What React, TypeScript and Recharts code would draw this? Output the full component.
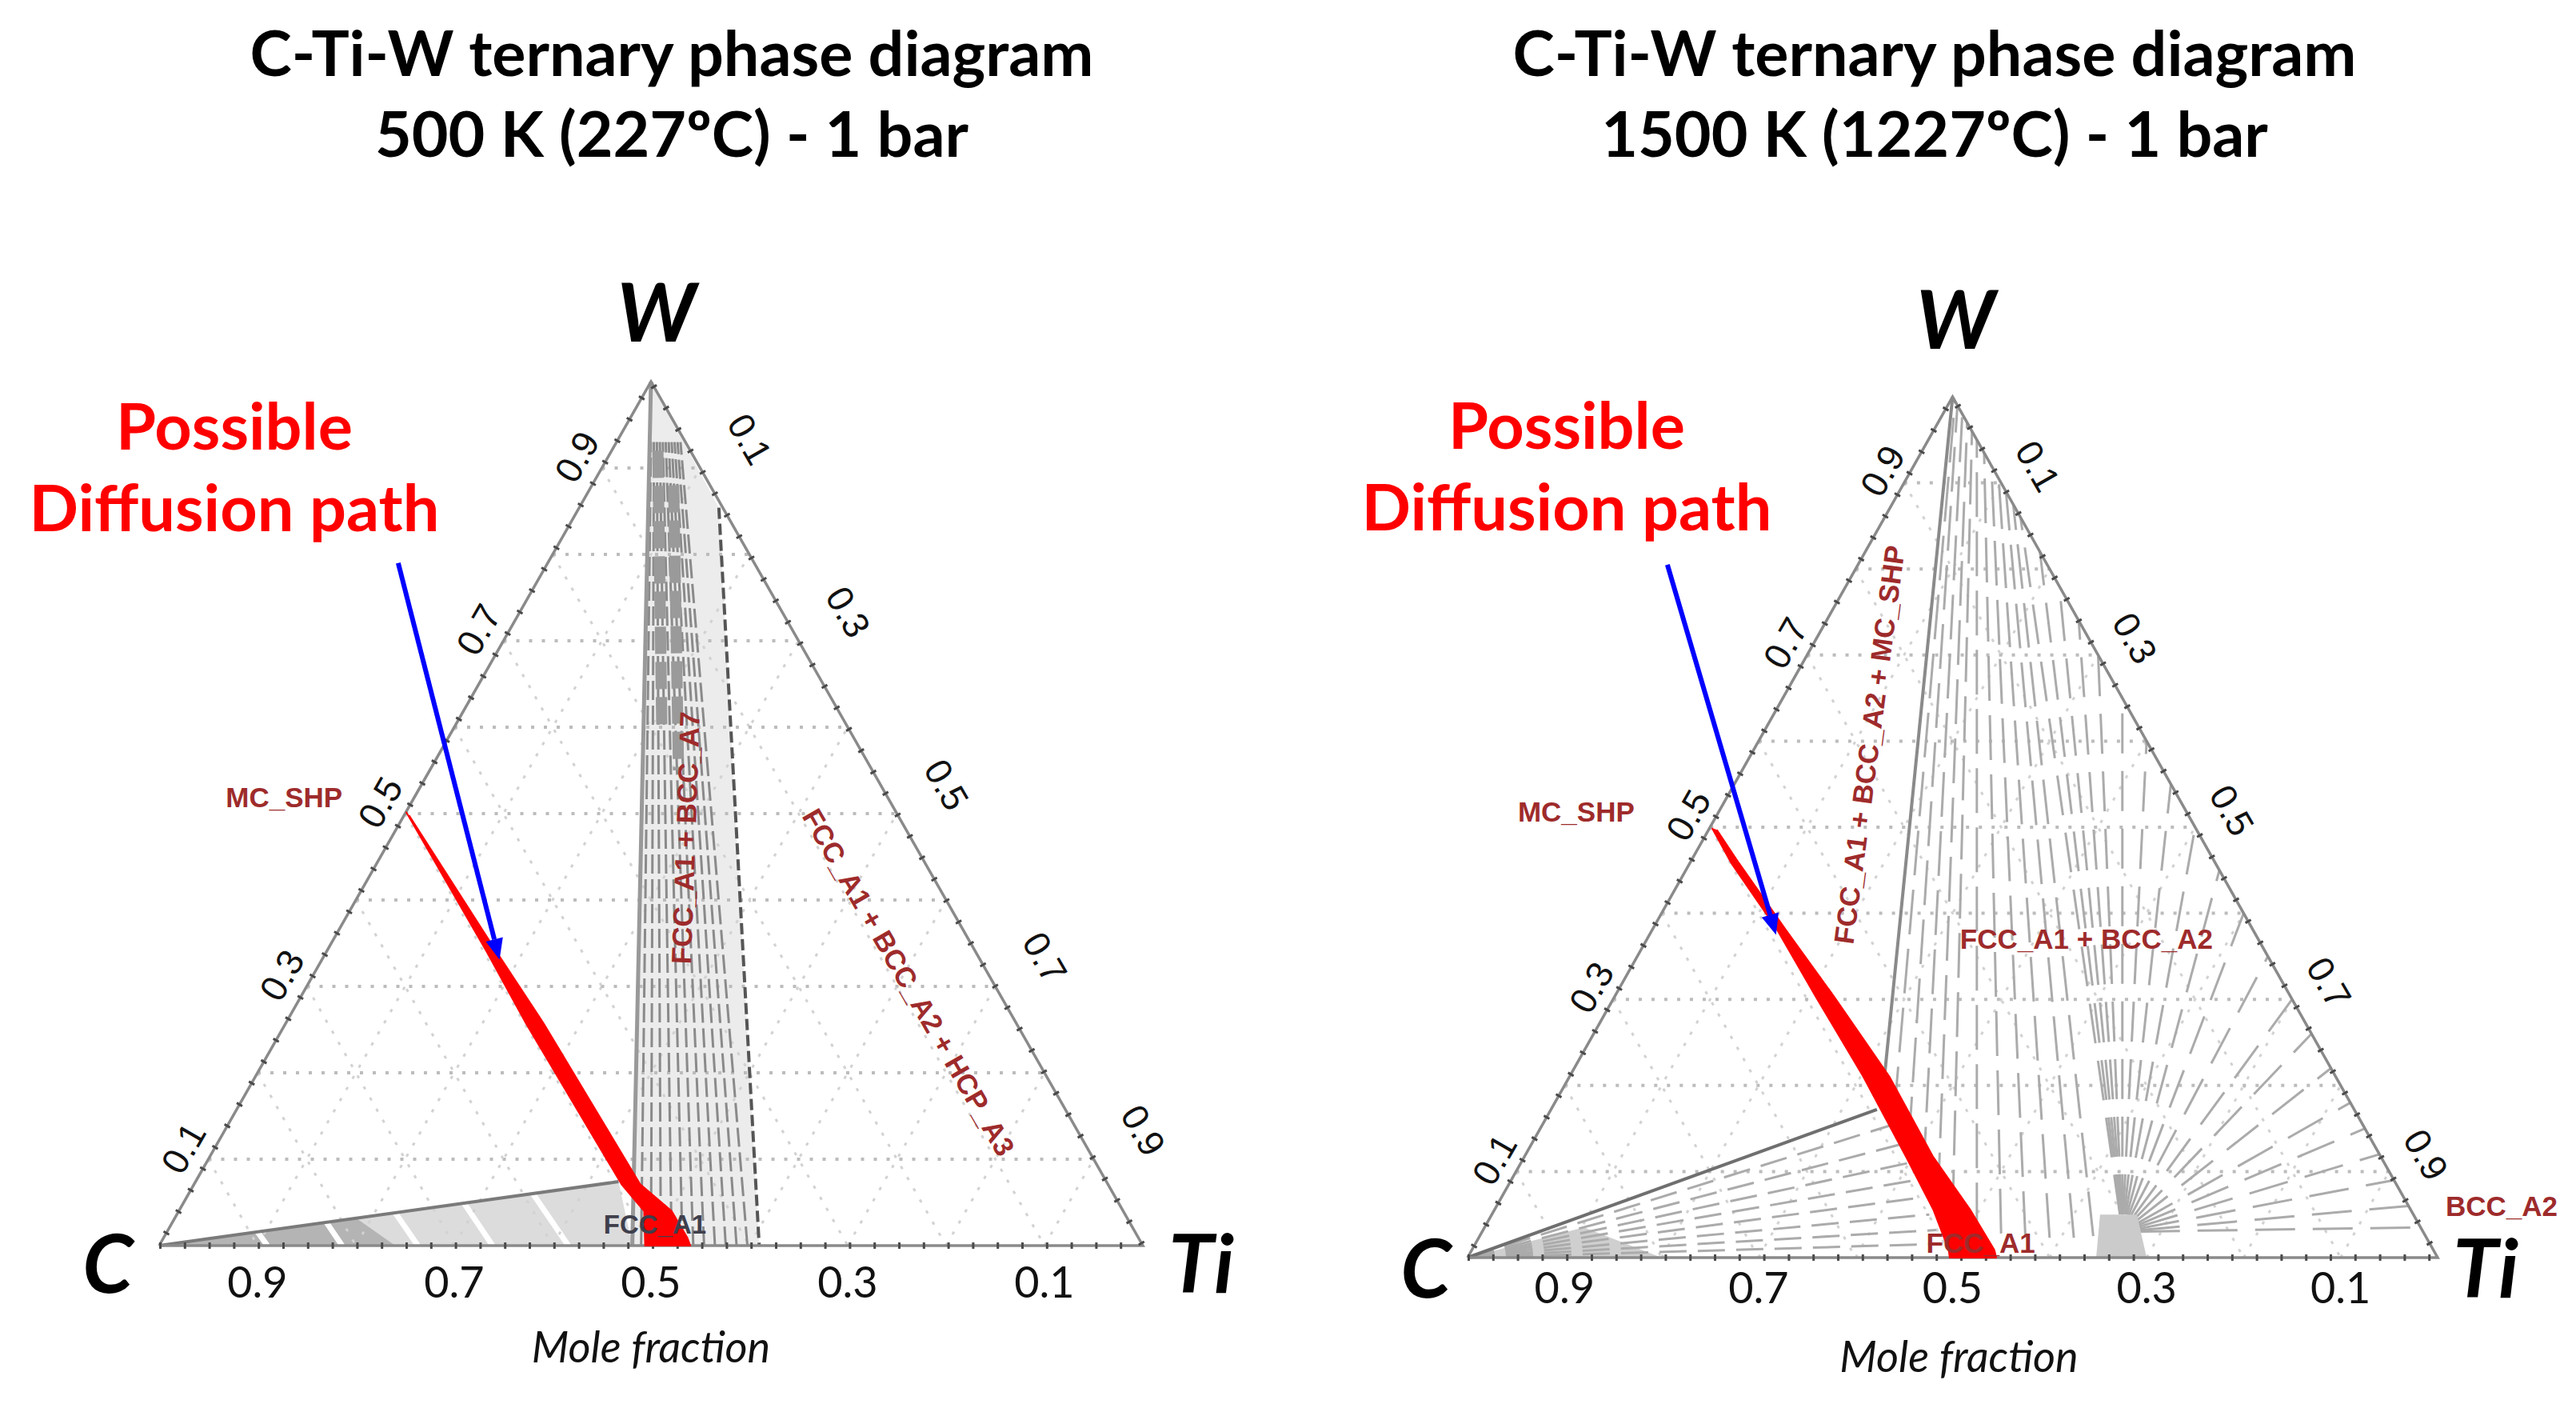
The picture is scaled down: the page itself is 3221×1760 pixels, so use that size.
import React from 'react'
import { ComposedChart, Scatter, XAxis, YAxis } from 'recharts'

type P = [number, number]

// ternary plot coordinates: x = xTi + xW / 2, y = xW  (C at [0, 0], Ti at [1, 0], W at [0.5, 1])
const vertexNames = ['C', 'Ti', 'W']
const vertexPoints: P[] = [[0, 0], [1, 0], [0.5, 1]]
const gridFractions = [0.1, 0.2, 0.3, 0.4, 0.5, 0.6, 0.7, 0.8, 0.9]
const tickFractions = [0.1, 0.3, 0.5, 0.7, 0.9]
const pathLabel = ['Possible', 'Diffusion path']

// 500 K
const lowTitle = ['C-Ti-W ternary phase diagram', '500 K (227ºC) - 1 bar']
const lowPath: P[] = [
  [0.251, 0.502], [0.297, 0.411], [0.333, 0.34], [0.373, 0.257], [0.47, 0.071], [0.493, 0.04], [0.494, 0],
  [0.54, 0], [0.537, 0.009], [0.521, 0.04], [0.489, 0.071], [0.391, 0.257], [0.343, 0.34], [0.303, 0.411], [0.254, 0.498],
]
const lowStrip: P[] = [[0.5, 1], [0.481, 0], [0.61, 0], [0.594, 0.33], [0.569, 0.854]]
const lowStripLeft: P[] = [[0.5, 1], [0.481, 0]]
const lowStripRight: P[] = [[0.569, 0.854], [0.594, 0.33], [0.61, 0]]
const lowHatchBottom = [0.49, 0.5, 0.51, 0.521, 0.532, 0.543, 0.554, 0.565, 0.576, 0.587, 0.598]
const lowHatchTop = [0.5, 0.503, 0.506, 0.509, 0.512, 0.515, 0.518, 0.521, 0.524, 0.527, 0.53]
const lowShade: P[][] = [[[0.507, 0.92], [0.511, 0.6]], [[0.523, 0.88], [0.528, 0.55]]]
const lowWedge: P[] = [[0, 0], [0.467, 0.074], [0.481, 0]]
const lowWedgeEdge: P[] = [[0, 0], [0.467, 0.074]]
const lowWedgeCore: P[] = [[0, 0], [0.2, 0.032], [0.24, 0]]
const lowStripeTop: P[] = [[0.1, 0.016], [0.17, 0.027], [0.24, 0.038], [0.31, 0.049], [0.38, 0.06]]
const lowStripeBottom = [0.11, 0.186, 0.263, 0.339, 0.416]
const lowArrow: P[] = [[0.243, 0.79], [0.346, 0.331]]
const lowPhaseNames = ['MC_SHP', 'FCC_A1 + BCC_A7', 'FCC_A1 + BCC_A2 + HCP_A3', 'FCC_A1']
const lowPhasePoints: P[] = [[0.127, 0.519], [0.535, 0.472], [0.762, 0.305], [0.504, 0.025]]

// 1500 K
const highTitle = ['C-Ti-W ternary phase diagram', '1500 K (1227ºC) - 1 bar']
const highPath: P[] = [
  [0.252, 0.499], [0.272, 0.458], [0.319, 0.381], [0.359, 0.303], [0.408, 0.21], [0.452, 0.117], [0.48, 0.056], [0.496, 0.009], [0.497, 0],
  [0.545, 0], [0.543, 0.009], [0.518, 0.056], [0.48, 0.117], [0.435, 0.21], [0.378, 0.303], [0.328, 0.381], [0.28, 0.458], [0.257, 0.497],
]
const highWLine: P[] = [[0.5, 1], [0.428, 0.19]]
const highCLine: P[] = [[0, 0], [0.422, 0.172]]
const highCorner: P[] = [[0, 0], [0.12, 0.035], [0.2, 0]]
const highCTies: P[] = [[0.44, 0.155], [0.448, 0.132], [0.455, 0.11], [0.462, 0.09], [0.469, 0.07], [0.476, 0.05], [0.483, 0.032], [0.49, 0.016]]
const highFcc: P[] = [
  [0.44, 0.17], [0.455, 0.135], [0.47, 0.1], [0.485, 0.07], [0.5, 0.05], [0.525, 0.035], [0.55, 0.028],
  [0.575, 0.025], [0.6, 0.023], [0.625, 0.023], [0.645, 0.025],
]
const highBccW = [0.995, 0.99, 0.98, 0.97, 0.96, 0.95, 0.935, 0.92, 0.905, 0.89, 0.875]
const highFan: P = [0.675, 0.03]
const highFanW = [0.86, 0.82, 0.78, 0.74, 0.7, 0.65, 0.6, 0.55, 0.5, 0.45, 0.4, 0.35, 0.3, 0.26, 0.22, 0.18, 0.15, 0.12, 0.09, 0.06, 0.035]
const highFanCore: P[] = [[0.648, 0], [0.652, 0.05], [0.69, 0.05], [0.7, 0]]
const highArrow: P[] = [[0.206, 0.805], [0.318, 0.375]]
const highPhaseNames = ['MC_SHP', 'FCC_A1 + BCC_A2 + MC_SHP', 'FCC_A1 + BCC_A2', 'BCC_A2', 'FCC_A1']
const highPhasePoints: P[] = [[0.112, 0.518], [0.414, 0.596], [0.638, 0.37], [1.066, 0.06], [0.529, 0.017]]

const H = 1760
const geo = {
  low: { left: 0, width: 1610, ox: 199, oy: 1557, sx: 1230, sy: 1080 },
  high: { left: 1610, width: 1611, ox: 225, oy: 1572, sx: 1213, sy: 1076 },
}

const textStyles: Record<string, any> = {
  edge: { fontFamily: 'Liberation Sans', fontSize: 46, fill: '#111', textAnchor: 'middle', dominantBaseline: 'central' },
  base: { fontFamily: 'Lato', fontSize: 54, fill: '#111', textAnchor: 'middle' },
  vertex: { fontFamily: 'Lato', fontSize: 102, fontWeight: 700, fontStyle: 'italic', fill: '#000', textAnchor: 'middle' },
  axis: { fontFamily: 'Lato', fontSize: 54, fontStyle: 'italic', fill: '#111', textAnchor: 'middle' },
  phase: { fontFamily: 'Liberation Sans', fontSize: 35, fontWeight: 700, fill: '#9e2b2b', textAnchor: 'middle', dominantBaseline: 'central' },
  phaseDark: { fontFamily: 'Liberation Sans', fontSize: 33, fontWeight: 700, fill: '#3f3f4c', textAnchor: 'middle', dominantBaseline: 'central' },
}

const noDot = () => <g />
const toData = (pts: P[]) => pts.map(([x, y]) => ({ x, y }))

function poly(key: string, pts: P[], style: any) {
  return (
    <Scatter key={key} data={toData(pts)} line={{ fill: 'none', ...style }} lineType="joint"
      shape={noDot} isAnimationActive={false} legendType="none" />
  )
}

function texts(key: string, items: any[]) {
  const draw = (p: any) => {
    const d = p.payload
    const X = p.cx + (d.dx || 0)
    const Y = p.cy + (d.dy || 0)
    return (
      <text x={X} y={Y} transform={d.rot ? `rotate(${d.rot} ${X} ${Y})` : undefined} {...textStyles[d.kind]}>
        {d.text}
      </text>
    )
  }
  return <Scatter key={key} data={items} shape={draw} isAnimationActive={false} legendType="none" />
}

const arrowLine = (p: any) => {
  const pts = p.points
  const a = pts[0]
  const b = pts[pts.length - 1]
  const ang = Math.atan2(b.y - a.y, b.x - a.x)
  const c = Math.cos(ang)
  const s = Math.sin(ang)
  const bx = b.x - 26 * c
  const by = b.y - 26 * s
  const head = `${b.x},${b.y} ${bx + 11 * s},${by - 11 * c} ${bx - 11 * s},${by + 11 * c}`
  return (
    <g>
      <line x1={a.x} y1={a.y} x2={bx} y2={by} stroke="#0000ff" strokeWidth={6} />
      <polygon points={head} fill="#0000ff" />
    </g>
  )
}

function frame(k: string) {
  const out: any[] = []
  gridFractions.forEach((v, i) => {
    const light = { stroke: '#d2d2d2', strokeWidth: 3, strokeDasharray: '4 12' }
    out.push(poly(`${k}gc${i}`, [[(1 - v) / 2, 1 - v], [1 - v, 0]], light))
    out.push(poly(`${k}gt${i}`, [[v, 0], [(1 + v) / 2, 1 - v]], light))
    out.push(poly(`${k}gw${i}`, [[v / 2, v], [1 - v / 2, v]], { stroke: '#bcbcbc', strokeWidth: 4, strokeDasharray: '4 12' }))
  })
  return out
}

function edges(k: string) {
  const loop: P[] = [...vertexPoints, vertexPoints[0]]
  return [
    poly(`${k}edge`, loop, { stroke: '#8a8a8a', strokeWidth: 3.5 }),
    poly(`${k}tick`, loop, { stroke: '#4a4a4a', strokeWidth: 8, strokeDasharray: '3 27.8' }),
  ]
}

function axisLabels(k: string, o: any) {
  const items: any[] = []
  tickFractions.forEach((v) => {
    const t = v.toFixed(1)
    items.push({ x: 1 - v, y: 0, text: t, dx: 0, dy: o.base, kind: 'base' })
    items.push({ x: v / 2, y: v, text: t, dx: o.left[0], dy: o.left[1], rot: -60, kind: 'edge' })
    items.push({ x: (1 + v) / 2, y: 1 - v, text: t, dx: o.right[0], dy: o.right[1], rot: 60, kind: 'edge' })
  })
  vertexNames.forEach((n, i) => {
    items.push({ x: vertexPoints[i][0], y: vertexPoints[i][1], text: n, dx: o.vertex[i][0], dy: o.vertex[i][1], kind: 'vertex' })
  })
  items.push({ x: 0.5, y: 0, text: 'Mole fraction', dx: o.axis[0], dy: o.axis[1], kind: 'axis' })
  return texts(`${k}labels`, items)
}

function Panel({ g, children }: { g: any; children: any }) {
  const xd = [-g.ox / g.sx, (g.width - g.ox) / g.sx]
  const yd = [(g.oy - H) / g.sy, g.oy / g.sy]
  return (
    <div style={{ position: 'absolute', left: g.left, top: 0, width: g.width, height: H }}>
      <ComposedChart width={g.width} height={H} margin={{ top: 0, right: 0, bottom: 0, left: 0 }}>
        <XAxis type="number" dataKey="x" domain={xd} allowDataOverflow hide />
        <YAxis type="number" dataKey="y" domain={yd} allowDataOverflow hide />
        {children}
      </ComposedChart>
    </div>
  )
}

function LowDiagram() {
  const items: any[] = []
  items.push(poly('lwedge', lowWedge, { fill: '#dcdcdc', stroke: 'none' }))
  items.push(poly('lcore', lowWedgeCore, { fill: '#b4b4b4', stroke: 'none' }))
  lowStripeTop.forEach((t, i) => items.push(poly(`lstripe${i}`, [t, [lowStripeBottom[i], 0]], { stroke: '#ffffff', strokeWidth: 7 })))
  items.push(poly('lstrip', lowStrip, { fill: '#ececec', stroke: 'none' }))
  items.push(...frame('l'))
  lowHatchBottom.forEach((b, i) =>
    items.push(poly(`lhatch${i}`, [[b, 0], [lowHatchTop[i], 0.93]], { stroke: '#8a8a8a', strokeWidth: 3, strokeDasharray: '24 7' })),
  )
  lowShade.forEach((s, i) =>
    items.push(poly(`lshade${i}`, s, { stroke: '#9a9a9a', strokeWidth: 14, strokeDasharray: '34 10' })),
  )
  items.push(poly('lsleft', lowStripLeft, { stroke: '#999999', strokeWidth: 5 }))
  items.push(poly('lsright', lowStripRight, { stroke: '#555555', strokeWidth: 4, strokeDasharray: '14 6' }))
  items.push(poly('lwedgeedge', lowWedgeEdge, { stroke: '#7a7a7a', strokeWidth: 4 }))
  items.push(...edges('l'))
  items.push(poly('lpath', lowPath, { fill: '#ff0000', stroke: '#ff0000', strokeWidth: 2, strokeLinejoin: 'round' }))
  items.push(<Scatter key="larrow" data={toData(lowArrow)} line={arrowLine} lineType="joint" shape={noDot} isAnimationActive={false} legendType="none" />)
  items.push(
    texts('lphase', lowPhaseNames.map((n, i) => ({
      x: lowPhasePoints[i][0], y: lowPhasePoints[i][1], text: n,
      rot: [0, -88, 60, 0][i], kind: i === 3 ? 'phaseDark' : 'phase',
    }))),
  )
  items.push(axisLabels('l', {
    base: 65, left: [-31, -14], right: [62, -36],
    vertex: [[-64, 59], [73, 59], [7, -50]], axis: [0, 146],
  }))
  return <Panel g={geo.low}>{items}</Panel>
}

function HighDiagram() {
  const items: any[] = []
  items.push(poly('hcore', highCorner, { fill: '#cfcfcf', stroke: 'none' }))
  items.push(...frame('h'))
  const tie = { stroke: '#ababab', strokeWidth: 3, strokeDasharray: '56 18' }
  highCTies.forEach((p, i) => items.push(poly(`hct${i}`, [[0, 0], p], { ...tie, strokeDasharray: '34 14' })))
  highFcc.forEach((p, i) => items.push(poly(`hfa${i}`, [p, [1 - highBccW[i] / 2, highBccW[i]]], tie)))
  highFanW.forEach((w, i) =>
    items.push(poly(`hfb${i}`, [highFan, [1 - w / 2, w]], { ...tie, strokeDasharray: '50 22', strokeDashoffset: 50 })),
  )
  items.push(poly('hfancore', highFanCore, { fill: '#cbcbcb', stroke: 'none' }))
  items.push(poly('hwline', highWLine, { stroke: '#8a8a8a', strokeWidth: 4 }))
  items.push(poly('hcline', highCLine, { stroke: '#6f6f6f', strokeWidth: 4 }))
  items.push(...edges('h'))
  items.push(poly('hpath', highPath, { fill: '#ff0000', stroke: '#ff0000', strokeWidth: 2, strokeLinejoin: 'round' }))
  items.push(<Scatter key="harrow" data={toData(highArrow)} line={arrowLine} lineType="joint" shape={noDot} isAnimationActive={false} legendType="none" />)
  items.push(
    texts('hphase', highPhaseNames.map((n, i) => ({
      x: highPhasePoints[i][0], y: highPhasePoints[i][1], text: n,
      rot: [0, -82.6, 0, 0, 0][i], kind: 'phase',
    }))),
  )
  items.push(axisLabels('h', {
    base: 57, left: [-27, -15], right: [46, -21],
    vertex: [[-52, 50], [60, 50], [4, -60]], axis: [8, 143],
  }))
  return <Panel g={geo.high}>{items}</Panel>
}

function Headings() {
  const title = { fontFamily: 'Lato', fontSize: 79, fontWeight: 700, fill: '#000', textAnchor: 'middle' as const }
  const red = { fontFamily: 'Lato', fontSize: 81, fontWeight: 700, fill: '#ff0000', textAnchor: 'middle' as const }
  return (
    <svg width={3221} height={H} style={{ position: 'absolute', left: 0, top: 0, pointerEvents: 'none' }}>
      <text x={840} y={95} {...title}>{lowTitle[0]}</text>
      <text x={840} y={196} {...title}>{lowTitle[1]}</text>
      <text x={2419} y={95} {...title}>{highTitle[0]}</text>
      <text x={2419} y={196} {...title}>{highTitle[1]}</text>
      <text x={293} y={562} {...red}>{pathLabel[0]}</text>
      <text x={293} y={664} {...red}>{pathLabel[1]}</text>
      <text x={1959} y={561} {...red}>{pathLabel[0]}</text>
      <text x={1959} y={663} {...red}>{pathLabel[1]}</text>
    </svg>
  )
}

export default function App() {
  return (
    <div style={{ position: 'absolute', left: 0, top: 0, width: 3221, height: H, background: '#fff', overflow: 'hidden' }}>
      <LowDiagram />
      <HighDiagram />
      <Headings />
    </div>
  )
}
